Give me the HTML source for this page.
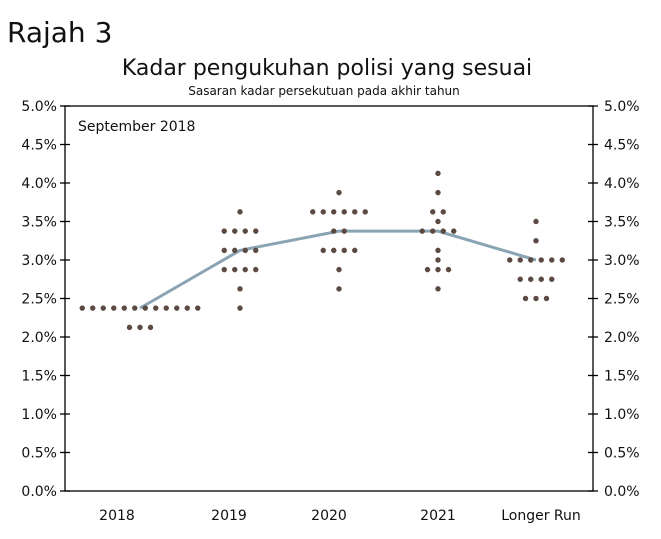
<!DOCTYPE html>
<html><head><meta charset="utf-8"><style>
body{margin:0;background:#fff;}
svg text{font-family:"DejaVu Sans","Liberation Sans",sans-serif;fill:#111;}
</style></head><body>
<svg width="661" height="534" xmlns="http://www.w3.org/2000/svg">
<text x="7" y="42" font-size="28">Rajah 3</text>
<text x="327" y="75" font-size="22" text-anchor="middle">Kadar pengukuhan polisi yang sesuai</text>
<text x="324" y="95" font-size="12" text-anchor="middle">Sasaran kadar persekutuan pada akhir tahun</text>
<g id="axes"></g>
<text x="78" y="131" font-size="14">September 2018</text>
<g id="marks"></g>
</svg>
<script>
const categories=["2018","2019","2020","2021","Longer Run"];
const medians=[2.375,3.125,3.375,3.375,3.0];
const dotValues=[
 [2.375,2.125],
 [3.625,3.375,3.125,2.875,2.625,2.375],
 [3.875,3.625,3.375,3.125,2.875,2.625],
 [4.125,3.875,3.625,3.5,3.375,3.125,3.0,2.875,2.625],
 [3.5,3.25,3.0,2.75,2.5]
];
const dotCounts=[
 [12,3],
 [1,4,4,4,1,1],
 [1,6,2,4,1,1],
 [1,1,2,1,4,1,1,3,1],
 [1,1,6,4,3]
];
const yTicks=[0,0.5,1,1.5,2,2.5,3,3.5,4,4.5,5];
const NS="http://www.w3.org/2000/svg";
const L=65,R=593,T=106,B=491;
const catX=[140,240,339,438,536];
function y(v){return B-(v/5)*(B-T);}
function x(i){return catX[i];}
function mk(tag,attrs,parent){const e=document.createElementNS(NS,tag);for(const k in attrs)e.setAttribute(k,attrs[k]);parent.appendChild(e);return e;}
const axes=document.getElementById('axes'),marks=document.getElementById('marks');
const frame=mk('rect',{x:L,y:T,width:R-L,height:B-T,fill:'none',stroke:'#000','stroke-width':1.3},axes);


yTicks.forEach(v=>{
 const yy=y(v);
 const t1=mk('line',{x1:L-5,x2:L+5,y1:yy,y2:yy,stroke:'#000','stroke-width':1.3},axes);
 
 
 const t2=mk('line',{x1:R-5,x2:R+5,y1:yy,y2:yy,stroke:'#000','stroke-width':1.3},axes);
 
 
 const a=mk('text',{x:57,y:yy+5,'font-size':14,'text-anchor':'end'},axes);a.textContent=v.toFixed(1)+'%';
 
 
 const b=mk('text',{x:604,y:yy+5,'font-size':14},axes);b.textContent=v.toFixed(1)+'%';
 
 
});
const labelX=[117,229,329,438,541];
categories.forEach((c,i)=>{
 const t=mk('text',{x:labelX[i],y:520,'font-size':14,'text-anchor':'middle'},axes);t.textContent=c;
 
 
});
const pts=medians.map((m,i)=>x(i)+','+y(m)).join(' ');
const line=mk('polyline',{points:pts,fill:'none',stroke:'#8aa4b4','stroke-width':3},marks);


const sp=10.5;
dotValues.forEach((vals,i)=>{
 vals.forEach((v,j)=>{
  const n=dotCounts[i][j];
  for(let k=0;k<n;k++){
   const cx=x(i)+(k-(n-1)/2)*sp;
   const d=mk('circle',{cx:cx,cy:y(v),r:2.7,fill:'#5b4a42'},marks);
   
   
  }
 });
});
</script>
</body></html>
